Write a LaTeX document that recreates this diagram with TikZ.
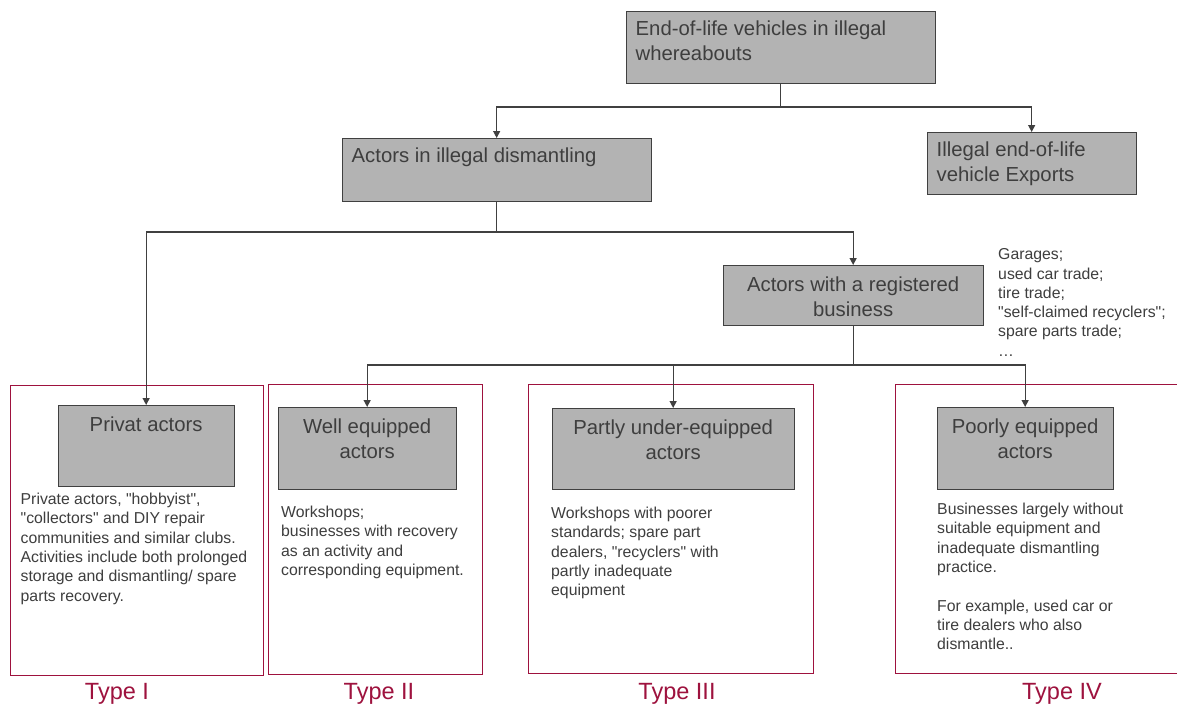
\documentclass[tikz,border=0pt]{standalone}
\usepackage{fontspec}
\setmainfont{Liberation Sans}[Ligatures=TeXOff]
\usetikzlibrary{positioning,arrows.meta}
\definecolor{boxgray}{RGB}{179,179,179}
\definecolor{linegray}{RGB}{64,64,64}
\definecolor{txtgray}{RGB}{62,62,62}
\definecolor{typered}{RGB}{158,18,62}
\newcommand{\boxfont}{\fontsize{20.3}{25}\selectfont}
\newcommand{\notefont}{\fontsize{15.8}{19.3}\selectfont}
\newcommand{\typefont}{\fontsize{23.5}{28}\selectfont}
\tikzset{
	graybox/.style={draw=linegray, fill=boxgray, line width=1.3pt, inner sep=0pt, anchor=north west},
	typebox/.style={draw=typered, line width=1.1pt, inner sep=0pt, anchor=north west},
	boxtext/.style={inner sep=0pt, align=left, font=\boxfont, text=txtgray},
	notetext/.style={inner sep=0pt, anchor=north west, align=left, font=\notefont, text=txtgray},
	typelabel/.style={inner sep=0pt, anchor=base, font=\typefont, text=typered},
	arr/.style={draw=linegray, line width=1.3pt, line join=miter, -{Triangle[length=7pt,width=7pt]}}
}
\begin{document}
\begin{tikzpicture}[x=1pt,y=-1pt]
		\useasboundingbox (0,0) rectangle (1177,707);
		\fill[white] (0,0) rectangle (1177,707);

		\node[typebox, minimum width=253, minimum height=290] (typeA) at (10,385) {};
		\node[typebox, minimum width=214, minimum height=290] (typeB) at (268,384) {};
		\node[typebox, minimum width=285, minimum height=289] (typeC) at (528,384) {};
		\node[typebox, minimum width=295, minimum height=289] (typeD) at (895,384) {};

		\node[graybox, minimum width=309, minimum height=72] (top) at (625.5,11) {};
		\node[graybox, minimum width=309, minimum height=63] (dism) at (341.5,138) {};
		\node[graybox, minimum width=209, minimum height=62] (exp) at (926.5,132) {};
		\node[graybox, minimum width=260, minimum height=60] (reg) at (722.5,265) {};
		\node[graybox, minimum width=176, minimum height=81] (priv) at (57.5,405) {};
		\node[graybox, minimum width=178, minimum height=82] (well) at (277.5,407) {};
		\node[graybox, minimum width=242, minimum height=81] (partly) at (551.5,408) {};
		\node[graybox, minimum width=176, minimum height=82] (poorly) at (936.5,407) {};

		\node[boxtext, below right=10pt and 10pt of top.north west, anchor=north west] (toptxt) {End-of-life vehicles in illegal\\whereabouts};
		\node[boxtext, below right=10pt and 10pt of dism.north west, anchor=north west] (dismtxt) {Actors in illegal dismantling};
		\node[boxtext, below right=9.5pt and 10pt of exp.north west, anchor=north west] (exptxt) {Illegal end-of-life\\vehicle Exports};
		\node[boxtext, align=center, below=11.5pt of reg.north, anchor=north] (regtxt) {Actors with a registered\\business};
		\node[boxtext, align=center, below=11.5pt of priv.north, anchor=north] (privtxt) {Privat actors};
		\node[boxtext, align=center, below=11.5pt of well.north, anchor=north] (welltxt) {Well equipped\\actors};
		\node[boxtext, align=center, below=11.5pt of partly.north, anchor=north] (partlytxt) {Partly under-equipped\\actors};
		\node[boxtext, align=center, below=11.5pt of poorly.north, anchor=north] (poorlytxt) {Poorly equipped\\actors};

		\coordinate (j1) at (top.south |- 0,107);
		\coordinate (j2) at (dism.south |- 0,232);
		\coordinate (j3) at (reg.south |- 0,365);

		\draw[arr] (top.south) -- (j1) -| (dism.north);
		\draw[arr] (top.south) -- (j1) -| (exp.north);
		\draw[arr] (dism.south) -- (j2) -| (priv.north);
		\draw[arr] (dism.south) -- (j2) -| (reg.north);
		\draw[arr] (reg.south) -- (j3) -| (well.north);
		\draw[arr] (reg.south) -- (j3) -| (partly.north);
		\draw[arr] (reg.south) -- (j3) -| (poorly.north);

		\node[notetext] (regnote) at (998,248.5) {Garages;\\used car trade;\\tire trade;\\"self-claimed recyclers";\\spare parts trade;\\\dots};
		\node[notetext] (privnote) at (20.5,493) {Private actors, "hobbyist",\\"collectors" and DIY repair\\communities and similar clubs.\\Activities include both prolonged\\storage and dismantling/ spare\\parts recovery.};
		\node[notetext] (wellnote) at (281,506) {Workshops;\\businesses with recovery\\as an activity and\\corresponding equipment.};
		\node[notetext] (partlynote) at (551,507) {Workshops with poorer\\standards; spare part\\dealers, "recyclers" with\\partly inadequate\\equipment};
		\node[notetext] (poorlynote) at (937,503) {Businesses largely without\\suitable equipment and\\inadequate dismantling\\practice.\\[19.3pt]For example, used car or\\tire dealers who also\\dismantle..};

		\node[typelabel] (typeAlbl) at (117,699) {Type I};
		\node[typelabel] (typeBlbl) at (379,699) {Type II};
		\node[typelabel] (typeClbl) at (677,699) {Type III};
		\node[typelabel] (typeDlbl) at (1062,699) {Type IV};
	\end{tikzpicture}
\end{document}
